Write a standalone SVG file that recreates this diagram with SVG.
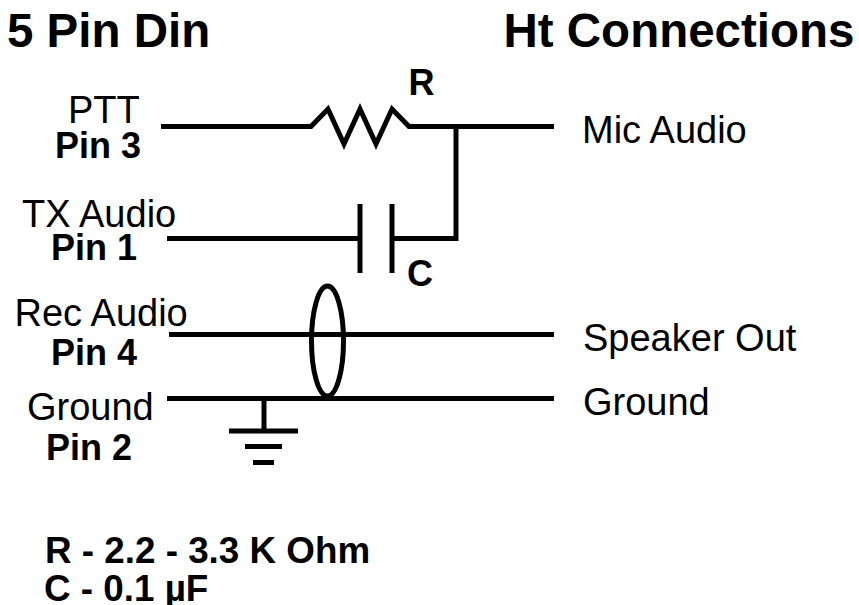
<svg xmlns="http://www.w3.org/2000/svg" width="859" height="605" viewBox="0 0 859 605">
<style>
text{font-family:"Liberation Sans",Arial,sans-serif;fill:#000}
.t{font-size:47.500px;font-weight:bold}
.n{font-size:38px}
.b{font-size:36px;font-weight:bold}
.l{font-size:36.800px;font-weight:bold}
.w{fill:none;stroke:#000;stroke-width:5}
</style>
<rect width="859" height="605" fill="#fff"/>
<g id="connectors">
<path class="w" d="M161 126.500H311L328 109L344 144L360 109L376 144L392 109L409 126.500H554"/>
<path class="w" d="M167 238.500H360M456 126.500V238.500H392"/>
<path class="w" d="M360 204V273M392 204V273"/>
<path class="w" d="M169 334.500H554"/>
<path class="w" d="M167 398.500H554"/>
<ellipse class="w" cx="327.500" cy="341" rx="16" ry="55"/>
<path class="w" d="M264 398V431M229 431H298M245 446.500H282M253 462.500H274"/>
</g>
<g id="title-left"><text class="t" x="7" y="47">5 Pin Din</text></g>
<g id="title-right"><text class="t" x="503.500" y="47">Ht Connections</text></g>
<g id="label-r"><text class="b" x="408.500" y="95">R</text></g>
<g id="label-c"><text class="b" x="407" y="286">C</text></g>
<g id="pin3"><text class="n" x="68" y="123">PTT</text><text class="b" x="55" y="158">Pin 3</text></g>
<g id="pin1"><text class="n" x="22" y="227">TX Audio</text><text class="b" x="51" y="260">Pin 1</text></g>
<g id="pin4"><text class="n" x="14.500" y="326">Rec Audio</text><text class="b" x="51" y="365">Pin 4</text></g>
<g id="pin2"><text class="n" x="27" y="420">Ground</text><text class="b" x="46" y="460">Pin 2</text></g>
<g id="mic"><text class="n" x="582" y="142.500">Mic Audio</text></g>
<g id="speaker"><text class="n" x="583" y="350.500">Speaker Out</text></g>
<g id="ground"><text class="n" x="583" y="415">Ground</text></g>
<g id="legend"><text class="l" x="45" y="563">R - 2.2 - 3.3 K Ohm</text><text class="l" x="44" y="600.500">C - 0.1 µF</text></g>
</svg>
